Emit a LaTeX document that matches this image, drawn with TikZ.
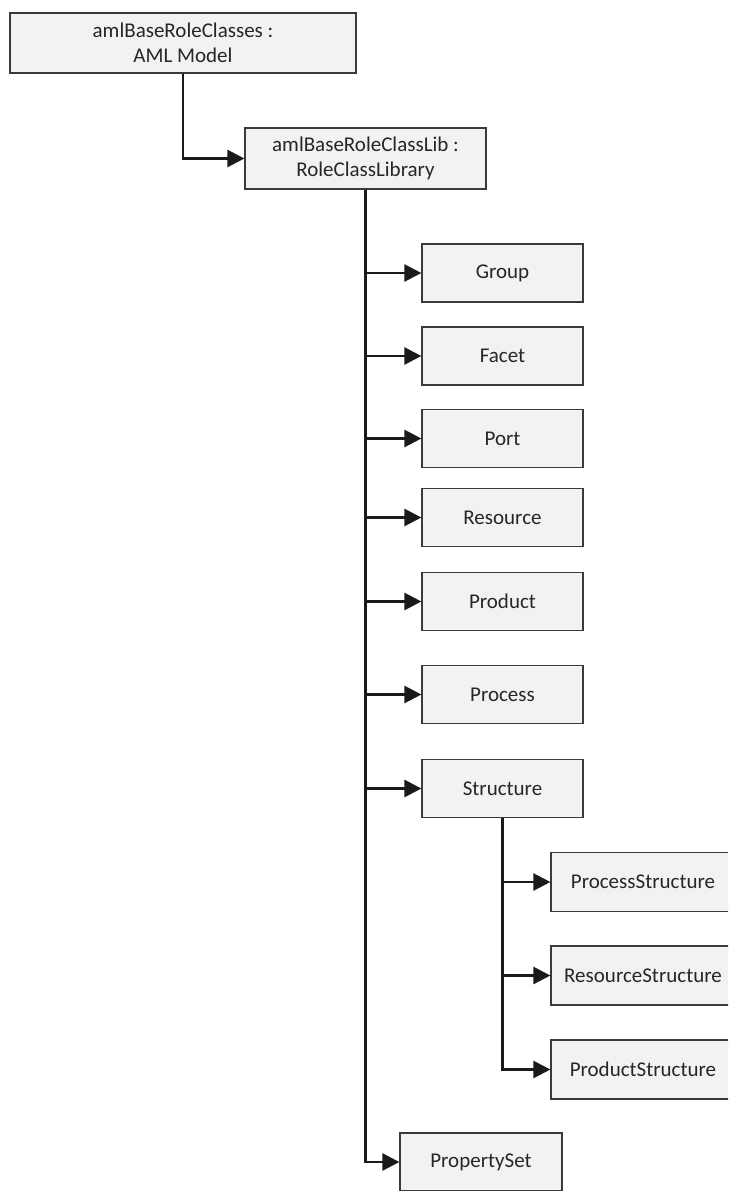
\documentclass[tikz,border=0pt]{standalone}
\usepackage{fontspec}
\setmainfont{Carlito}
\usetikzlibrary{arrows.meta}
\definecolor{boxfill}{HTML}{F2F2F2}
\definecolor{boxline}{HTML}{3A3A3A}
\definecolor{connline}{HTML}{1A1A1A}
\definecolor{txt}{HTML}{262626}
\begin{document}
\begin{tikzpicture}[x=1pt,y=-1pt,
  box/.style={draw=boxline,fill=boxfill,line width=1.2pt,rectangle,inner sep=0pt,
    align=center,font=\fontsize{21}{25}\selectfont,text=txt},
  conn/.style={draw=connline,line width=2.5pt,
    -{Triangle[length=17pt,width=17pt]}}]
\useasboundingbox (0,0) rectangle (728,1191);
\clip (0,0) rectangle (728,1191);
\node[box,minimum width=346pt,minimum height=60pt] (root) at (183,43) {amlBaseRoleClasses :\\AML Model};
\node[box,minimum width=241pt,minimum height=61pt] (lib) at (365.5,158.5) {amlBaseRoleClassLib :\\RoleClassLibrary};
\foreach \n/\t/\y in {group/Group/273,facet/Facet/356,port/Port/438.5,resource/Resource/517.5,
  product/Product/601.5,process/Process/694.5,structure/Structure/788.5}{
  \node[box,minimum width=161pt,minimum height=58pt] (\n) at (502.5,\y) {\t};
}
\node[box,minimum width=162pt,minimum height=58pt] (propset) at (481,1162) {PropertySet};
\foreach \n/\t/\y in {pstruct/ProcessStructure/882,rstruct/ResourceStructure/975.5,prodstruct/ProductStructure/1069.5}{
  \node[box,minimum width=184pt,minimum height=59pt] (\n) at (643,\y) {\t};
}
\draw[conn] (root.south) |- (lib.west);
\foreach \n in {group,facet,port,resource,product,process,structure,propset}{
  \draw[conn] (lib.south) |- (\n.west);
}
\foreach \n in {pstruct,rstruct,prodstruct}{
  \draw[conn] (structure.south) |- (\n.west);
}
\end{tikzpicture}
\end{document}
